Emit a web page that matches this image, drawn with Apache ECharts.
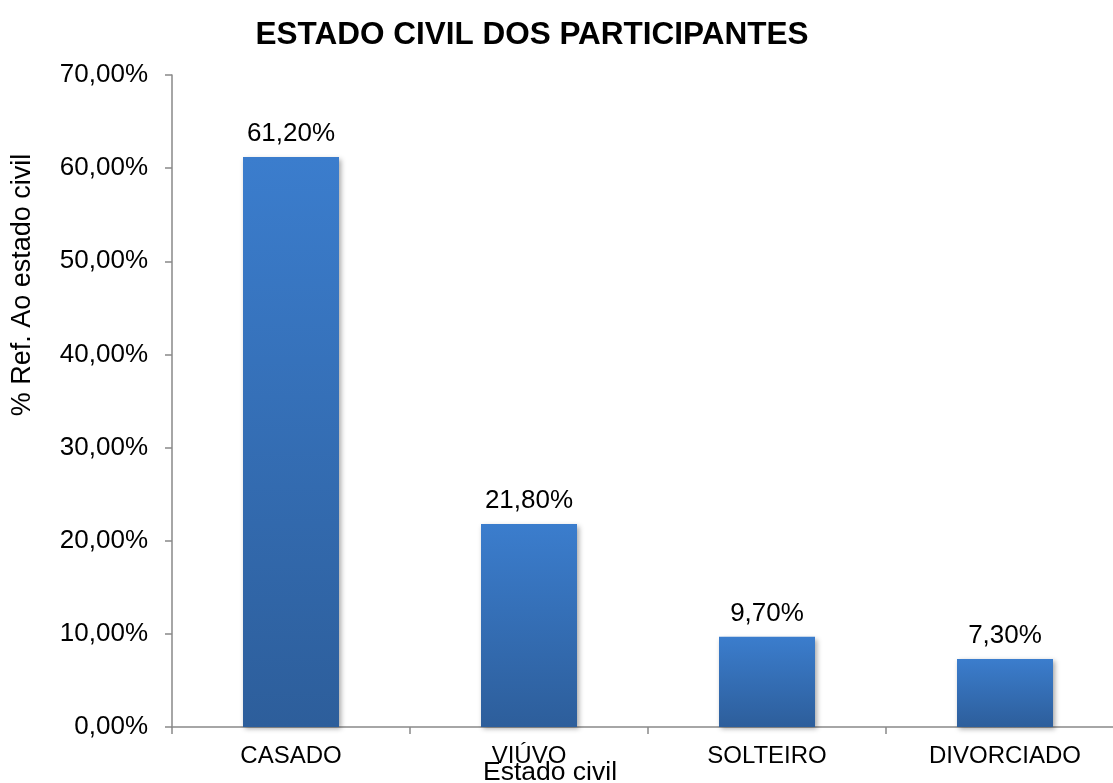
<!DOCTYPE html>
<html>
<head>
<meta charset="utf-8">
<script src="https://cdn.jsdelivr.net/npm/echarts@6/dist/echarts.min.js"></script>
<style>html,body{margin:0;padding:0;background:#fff}#c{width:1113px;height:783px}</style>
</head>
<body>
<div id="c"></div>
<script>
const categories = ['CASADO', 'VIÚVO', 'SOLTEIRO', 'DIVORCIADO'];
const values = [61.2, 21.8, 9.7, 7.3];
const titleText = 'ESTADO CIVIL DOS PARTICIPANTES';
const yAxisTitle = '% Ref. Ao estado civil';
const xAxisTitle = 'Estado civil';

const fmt = v => v.toFixed(2).replace('.', ',') + '%';
const font = 'Liberation Sans, Arial, sans-serif';
const chart = echarts.init(document.getElementById('c'));
chart.setOption({
  animation: false,
  backgroundColor: '#fff',
  title: {
    text: titleText, left: 527, top: 14, textAlign: 'center',
    textStyle: { fontFamily: font, fontSize: 31.5, fontWeight: 'bold', color: '#000' }
  },
  grid: { left: 172, top: 75, right: -11, bottom: 56, outerBoundsMode: 'none', containLabel: false },
  xAxis: {
    type: 'category', data: categories,
    axisLine: { lineStyle: { color: '#898989', width: 1.5 } },
    axisTick: { show: true, length: 7, lineStyle: { color: '#898989', width: 1.5 } },
    axisLabel: { fontFamily: font, fontSize: 24, color: '#000', margin: 17 }
  },
  yAxis: {
    type: 'value', min: 0, max: 70, interval: 10,
    splitLine: { show: false },
    axisLine: { show: true, lineStyle: { color: '#898989', width: 1.5 } },
    axisTick: { show: true, length: 7, lineStyle: { color: '#898989', width: 1.5 } },
    axisLabel: { fontFamily: font, fontSize: 26, color: '#000', margin: 24, formatter: fmt }
  },
  series: [{
    type: 'bar', data: values, barWidth: 96,
    itemStyle: {
      color: new echarts.graphic.LinearGradient(0, 0, 0, 1, [
        { offset: 0, color: '#3B7DCD' },
        { offset: 1, color: '#2D5E9B' }
      ]),
      shadowColor: 'rgba(0,0,0,0.35)', shadowBlur: 5, shadowOffsetX: 2, shadowOffsetY: 2
    },
    label: {
      show: true, position: 'top', distance: 10,
      fontFamily: font, fontSize: 26, color: '#000',
      formatter: p => fmt(p.value)
    }
  }],
  graphic: [
    {
      type: 'text', x: 23, y: 285, rotation: Math.PI / 2,
      style: { text: yAxisTitle, fontFamily: font, fontSize: 27, fill: '#000', align: 'center', verticalAlign: 'middle' }
    },
    {
      type: 'text', x: 550, y: 773,
      style: { text: xAxisTitle, fontFamily: font, fontSize: 26.5, fill: '#000', align: 'center', verticalAlign: 'middle' }
    }
  ]
});
</script>
</body>
</html>
